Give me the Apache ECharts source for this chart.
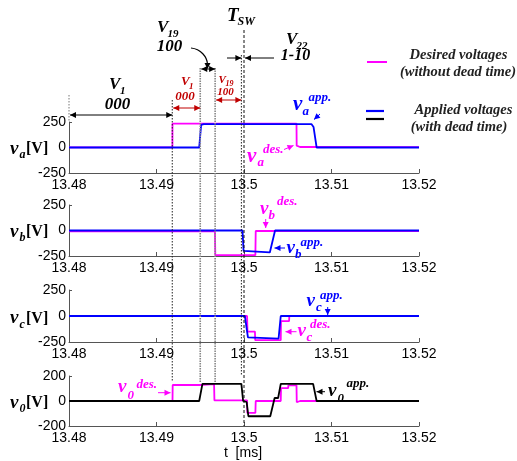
<!DOCTYPE html>
<html><head><meta charset="utf-8">
<script src="https://cdn.jsdelivr.net/npm/echarts@6/dist/echarts.min.js"></script>
<style>html,body{margin:0;padding:0;background:#fff}#c{width:517px;height:461px}</style>
</head><body><div id="c"></div>
<script>
// ---- data (time in ms, voltage in V) ----
const xTicks = [13.48, 13.49, 13.5, 13.51, 13.52];
const yTicksPhase = [-250, 0, 250];
const yTicksZero = [-200, 0, 200];
const vaDes = [[13.48,2],[13.49182,2],[13.49183,235],[13.50600,235],[13.50602,18],[13.50640,5],[13.52,3]];
const vaApp = [[13.48,0],[13.49488,0],[13.49510,222],[13.49540,230],[13.50770,230],[13.50795,200],[13.50830,0],[13.52,0]];
const vbDes = [[13.48,-8],[13.49668,-8],[13.49672,-242],[13.50130,-242],[13.50134,-5],[13.52,-5]];
const vbApp = [[13.48,0],[13.49983,0],[13.49995,-200],[13.50005,-215],[13.50295,-215],[13.50355,0],[13.52,0]];
const vcDes = [[13.48,0],[13.50035,0],[13.50040,-150],[13.50125,-150],[13.50128,-232],[13.50420,-232],[13.50423,-50],[13.50515,-50],[13.50518,0],[13.52,0]];
const vcApp = [[13.48,0],[13.50010,0],[13.50045,-205],[13.50060,-218],[13.50395,-218],[13.50420,0],[13.52,0]];
const v0Des = [[13.48,0],[13.49183,0],[13.49185,128],[13.49490,128],[13.49500,135],[13.49658,135],[13.49662,5],[13.50035,5],[13.50038,-95],[13.50130,-95],[13.50134,0],[13.50420,0],[13.50423,103],[13.50505,103],[13.50507,125],[13.50600,125],[13.50603,-10],[13.50640,0],[13.52,0]];
const v0App = [[13.48,0],[13.49488,0],[13.49525,137],[13.49970,137],[13.49990,0],[13.50030,-8],[13.50050,-122],[13.50300,-122],[13.50350,24],[13.50390,24],[13.50420,137],[13.50790,137],[13.50830,0],[13.52,0]];
// interval boundaries (ms)
const guideTimes = [13.48, 13.4918, 13.4950, 13.4967, 13.4997, 13.5];

const MAG = '#ff00ff', BLU = '#0000ff', BLK = '#000000', RED = '#c00000';
const chart = echarts.init(document.getElementById('c'), null, {renderer:'canvas', width:517, height:461});

const grids = [
  {left:69, top:122, width:350, height:51},
  {left:69, top:205, width:350, height:51},
  {left:69, top:290, width:350, height:52},
  {left:69, top:376, width:350, height:50}
].map(g => Object.assign({containLabel:false, outerBoundsMode:'none'}, g));

const axisFont = {fontFamily:'"Liberation Sans", Arial, sans-serif', fontSize:14, color:'#000'};
const xAxes = grids.map((g,i) => ({
  type:'value', gridIndex:i, min:xTicks[0], max:xTicks[xTicks.length-1], interval:0.01,
  axisLine:{show:true, onZero:false, lineStyle:{color:'#555', width:1}},
  axisTick:{show:true, inside:true, length:4, lineStyle:{color:'#555'}},
  splitLine:{show:false},
  axisLabel:Object.assign({margin:5, formatter:v => String(Number(v.toFixed(2)))}, axisFont)
}));
const yAxes = grids.map((g,i) => {
  const tk = i === 3 ? yTicksZero : yTicksPhase;
  return {
    type:'value', gridIndex:i, min:tk[0], max:tk[2], interval:tk[2],
    axisLine:{show:true, onZero:false, lineStyle:{color:'#555', width:1}},
    axisTick:{show:true, inside:true, length:3, lineStyle:{color:'#555'}},
    splitLine:{show:false},
    axisLabel:Object.assign({margin:3}, axisFont)
  };
});
function mk(data, color, i, z) {
  return {type:'line', xAxisIndex:i, yAxisIndex:i, data, showSymbol:false, symbol:'none',
    lineStyle:{color, width:1.8}, silent:true, z, animation:false};
}
const series = [
  mk(vaDes, MAG, 0, 2), mk(vaApp, BLU, 0, 3),
  mk(vbDes, MAG, 1, 2), mk(vbApp, BLU, 1, 3),
  mk(vcDes, MAG, 2, 2), mk(vcApp, BLU, 2, 3),
  mk(v0Des, MAG, 3, 2), mk(v0App, BLK, 3, 3)
];
chart.setOption({animation:false, backgroundColor:'#fff', grid:grids, xAxis:xAxes, yAxis:yAxes, series});

// ---- annotations ----
const G = [];
const SERIF = '"Liberation Serif", "Times New Roman", serif';
function txt(s, x, y, size, fill, align, weight, style) {
  G.push({type:'text', x, y, z:100, silent:true, style:{text:s, fill, textAlign:align||'left', textVerticalAlign:'middle',
    font:(style||'italic') + ' ' + (weight||'bold') + ' ' + size + 'px ' + SERIF}});
}
function line(x1,y1,x2,y2,stroke,w,dash) {
  G.push({type:'line', z:90, silent:true, shape:{x1,y1,x2,y2}, style:{stroke, lineWidth:w||1, lineDash:dash||null}});
}
function head(x,y,ang,color,len,wd) {
  len = len||6; wd = wd||3;
  const c = Math.cos(ang), s = Math.sin(ang);
  const bx = x - len*c, by = y - len*s;
  G.push({type:'polygon', z:95, silent:true, shape:{points:[[x,y],[bx - wd*s, by + wd*c],[bx + wd*s, by - wd*c]]}, style:{fill:color}});
}
function arrow(x1,y1,x2,y2,color,both,w) {
  line(x1,y1,x2,y2,color,w||1);
  const a = Math.atan2(y2-y1, x2-x1);
  head(x2,y2,a,color);
  if (both) head(x1,y1,a+Math.PI,color);
}
function vsym(x, y, sub, sup, color, vs, ss, subDx, subDy, supDx, supDy) {
  txt('v', x, y, vs, color);
  txt(sub, x + subDx, y + subDy, ss, color);
  if (sup) txt(sup, x + supDx, y + supDy, ss, color);
}

const px = t => chart.convertToPixel({xAxisIndex:0}, t);
const gx = guideTimes.map(px);
// vertical guides
line(gx[0], 95, gx[0], 122, '#777', 1, [1.5,1.5]);
line(gx[1], 100, gx[1], 382, '#222', 1, [1.5,1.5]);
line(gx[2], 68, gx[2], 383, '#888', 1.6, [1.5,1]);
line(gx[3], 68, gx[3], 383, '#888', 1.6, [1.5,1]);
line(gx[4], 55, gx[4], 376, '#222', 1, [1.5,1.5]);
line(gx[5], 30, gx[5], 426, '#111', 1, [3,2]);

// dimension arrows
arrow(gx[0]+1, 115, gx[1], 115, BLK, true);
arrow(gx[1]+1, 108, gx[2], 108, RED, true);
arrow(gx[3]+1, 100, gx[4], 100, RED, true);
arrow(gx[2]+1, 69, gx[3], 69, BLK, true);
arrow(227, 58, gx[4], 58, BLK, false);
arrow(274, 58, gx[5]+1, 58, BLK, false);
// curved arrow from V19 label
G.push({type:'bezierCurve', z:90, silent:true, shape:{x1:191, y1:48, cpx1:201, cpy1:49, cpx2:207, cpy2:57, x2:207.5, y2:64}, style:{stroke:'#000', lineWidth:1.2, fill:null}});
head(207.5, 69, Math.PI/2, BLK, 6, 3);

// top labels
txt('T', 227, 16, 19, BLK); txt('SW', 237.5, 22, 12, BLK);
txt('V', 157, 28, 17, BLK); txt('19', 167.5, 34, 11, BLK); txt('100', 169.5, 47, 17, BLK, 'center');
txt('V', 109, 85, 17, BLK); txt('1', 120, 91, 11, BLK); txt('000', 117.5, 105, 17, BLK, 'center');
txt('V', 286, 40, 17, BLK); txt('22', 296.5, 46, 11, BLK); txt('1-10', 295.5, 56, 16, BLK, 'center');
txt('V', 181, 82, 13, RED); txt('1', 189, 87, 9, RED); txt('000', 185, 97, 13, RED, 'center');
txt('V', 218.5, 80, 11, RED); txt('19', 225.5, 84, 8, RED); txt('100', 225.5, 92, 11, RED, 'center');

// legend
line(367, 62, 387, 62, MAG, 2);
line(366, 111, 384, 111, BLU, 2.2);
line(366, 119, 384, 119, BLK, 2.2);
txt('Desired voltages', 458.5, 55, 14.5, '#222', 'center');
txt('(without dead time)', 458, 72, 14.5, '#222', 'center');
txt('Applied voltages', 463.5, 110, 14.5, '#222', 'center');
txt('(with dead time)', 459, 127, 14.5, '#222', 'center');

// y-axis titles
[['a',149],['b',232],['c',318.5],['0',403]].forEach(([s,y]) => {
  txt('v', 10, y, 19, BLK);
  txt(s, 19.5, y + 6, 12, BLK);
  txt('[V]', 26, y, 16, BLK, 'left', 'bold', 'normal');
});
G.push({type:'text', x:243, y:453, z:100, silent:true, style:{text:'t  [ms]', fill:'#000', textAlign:'center', textVerticalAlign:'middle', font:'14px "Liberation Sans", Arial, sans-serif'}});

// trace annotations
vsym(293, 105, 'a', 'app.', BLU, 21, 13, 9.5, 7, 15.5, -7);
arrow(320, 114, 314, 119.5, BLU, false);
vsym(247, 157, 'a', 'des.', MAG, 21, 13, 10.5, 6, 16, -7);
arrow(284, 149.5, 293.5, 145.5, MAG, false);
vsym(260, 209, 'b', 'des.', MAG, 19, 13, 8.5, 7, 17, -7);
arrow(265.7, 219, 265.7, 228, MAG, false);
arrow(285, 248, 274.5, 248, BLU, false);
vsym(286.5, 248, 'b', 'app.', BLU, 19, 13, 8.5, 7, 14, -5);
vsym(306.5, 301, 'c', 'app.', BLU, 19, 13, 9.5, 7, 13.5, -5);
arrow(327.7, 307, 327.7, 315, BLU, false);
arrow(296.5, 331.7, 285.5, 331.7, MAG, false);
vsym(297.5, 331, 'c', 'des.', MAG, 19, 13, 9, 7, 12.5, -6);
vsym(118, 387.5, '0', 'des.', MAG, 19, 13, 9.5, 8, 18.5, -3);
arrow(158, 392.7, 170.5, 392.7, MAG, false);
arrow(325, 391.7, 316.5, 391.7, BLK, false);
vsym(328, 391.5, '0', 'app.', BLK, 19, 13, 9.5, 7, 18.5, -8);

chart.setOption({graphic:{elements:G}});
</script></body></html>
